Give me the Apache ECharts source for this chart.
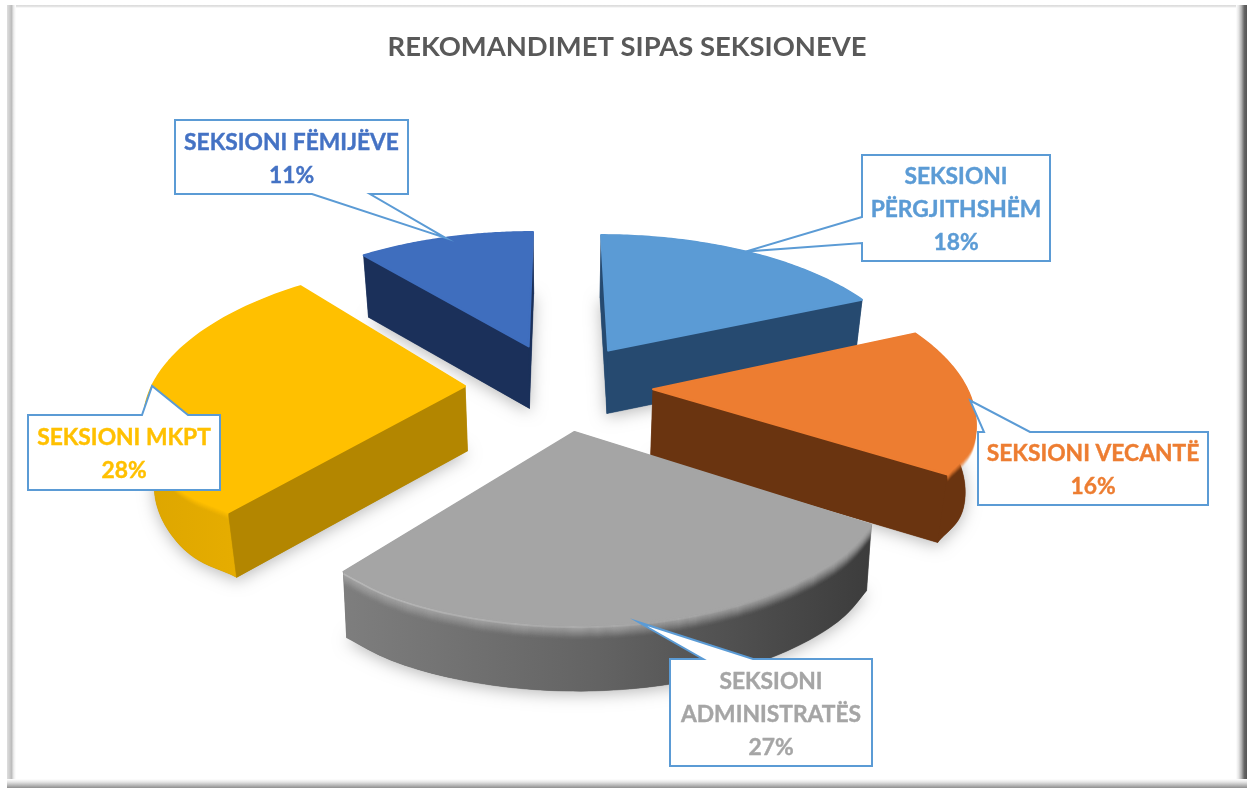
<!DOCTYPE html>
<html>
<head>
<meta charset="utf-8">
<style>html,body{margin:0;padding:0;background:#fff}#c{width:1247px;height:788px}</style>
<script src="https://cdn.jsdelivr.net/npm/echarts@6/dist/echarts.min.js"></script>
</head>
<body>
<div id="c"></div>
<script>
const titleText = 'REKOMANDIMET SIPAS SEKSIONEVE';
const sectionNames = ['SEKSIONI\nPËRGJITHSHËM', 'SEKSIONI VECANTË', 'SEKSIONI\nADMINISTRATËS', 'SEKSIONI MKPT', 'SEKSIONI FËMIJËVE'];
const sectionValues = [18.4, 15.6, 27, 28, 11];
const drawOrder = [4, 0, 3, 1, 2];

// projection of the tilted pie
const view = { cx: 559, cy: 386, fx: 313, fy: 147, p: 0.175, explode: 0.3 };

const looks = [
  { top: '#5B9BD5', radial: '#264A70', rim: ['#264A70', '#264A70'], bevel: 0, h: 63, r: 1, conv: 0.975, shrinkEnd: 0, shrinkStart: 0 },
  { top: '#ED7D31', radial: '#6A3410', rim: ['#6A3410', '#6A3410'], bevel: 7, h: 68, r: 1, conv: 0.975, shrinkEnd: 0.025, shrinkStart: 0 },
  { top: '#A5A5A5', radial: '#5A5A5A', rim: ['#7E7E7E', '#626262', '#3C3C3C'], bevel: 14, h: 66, r: 0.97, conv: 0.985, shrinkEnd: 0.012, shrinkStart: 0.012, glow: true },
  { top: '#FFC000', radial: '#B38600', rim: ['#DDA600', '#EDB200'], bevel: 7, h: 65, r: 1, conv: 0.975, shrinkEnd: 0, shrinkStart: 0.03 },
  { top: '#3F6EBE', radial: '#1B305A', rim: ['#1B305A', '#1B305A'], bevel: 0, h: 62, r: 1, conv: 0.975, shrinkEnd: 0, shrinkStart: 0 }
];

const callouts = [
  { box: [862, 155, 188, 106], side: 'left', base: [217, 243], tipR: 1, color: '#5B9BD5' },
  { box: [978, 432, 230, 73], side: 'top', base: [1030, 984], tipR: 0.995, color: '#ED7D31' },
  { box: [670, 659, 202, 107], side: 'top', base: [753, 703], tipR: 0.97, color: '#A5A5A5' },
  { box: [28, 415, 192, 75], side: 'top', base: [188, 142], tipR: 1, color: '#FFC000' },
  { box: [175, 120, 233, 74], side: 'bottom', base: [370, 312], tipR: 1, color: '#4472C4' }
];

const total = sectionValues.reduce((a, b) => a + b, 0);
const spans = [];
sectionValues.reduce((acc, v) => {
  const next = acc + v / total * Math.PI * 2;
  spans.push([acc, next]);
  return next;
}, 0);

function project(i, theta, r) {
  const mid = (spans[i][0] + spans[i][1]) / 2;
  const u = view.explode * Math.sin(mid) + r * Math.sin(theta);
  const v = view.explode * Math.cos(mid) + r * Math.cos(theta);
  const s = 1 / (1 + view.p * v);
  return [view.cx + view.fx * u * s, view.cy - view.fy * v * s];
}
function rimPoints(i) {
  const pts = [];
  const n = 80;
  const look = looks[i];
  const w = 7 * Math.PI / 180;
  for (let k = 0; k <= n; k++) {
    const t = spans[i][0] + (spans[i][1] - spans[i][0]) * k / n;
    const d0 = (t - spans[i][0]) / w, d1 = (spans[i][1] - t) / w;
    const r = look.r * (1 - look.shrinkStart * Math.exp(-d0 * d0) - look.shrinkEnd * Math.exp(-d1 * d1));
    pts.push(project(i, t, r));
  }
  return pts;
}
function hGrad(stops) {
  return new echarts.graphic.LinearGradient(0, 0, 1, 0,
    stops.map((c, j) => ({ offset: j / (stops.length - 1), color: c })));
}
function sliceItem(params, api) {
  const i = api.value(0);
  const look = looks[i];
  const drop = p => [view.cx + (p[0] - view.cx) * look.conv, p[1] + look.h];
  const apex = project(i, 0, 0);
  const rim = rimPoints(i);
  const first = rim[0], last = rim[rim.length - 1];
  const bottomRim = rim.map(drop).reverse();
  const children = [];
  const floor = [drop(apex)].concat(rim.map(drop));
  children.push({ type: 'polygon', shape: { points: floor },
    style: { fill: look.radial, shadowBlur: 16, shadowColor: 'rgba(0,0,0,0.28)', shadowOffsetY: 3 } });
  const walls = [
    { pts: [apex, first, drop(first), drop(apex)], fill: look.radial },
    { pts: [apex, last, drop(last), drop(apex)], fill: look.radial },
    { pts: rim.concat(bottomRim), fill: hGrad(look.rim) }
  ];
  walls.sort((a, b) => {
    const my = w => w.pts.reduce((t, p) => t + p[1], 0) / w.pts.length;
    return my(a) - my(b);
  });
  walls.forEach(w => children.push({ type: 'polygon', shape: { points: w.pts },
    style: { fill: w.fill, stroke: w.fill, lineWidth: 0.5 } }));
  for (let k = look.bevel; k > 0; k--) {
    const a = Math.pow(1 - k / (look.bevel + 1), 1.4);
    children.push({ type: 'polyline', shape: { points: rim.map(p => [p[0], p[1] + k]) },
      style: { stroke: look.top, lineWidth: 1.6, fill: 'none', opacity: a } });
  }
  if (look.glow) {
    children.push({ type: 'polyline', shape: { points: rim.map(p => [p[0], p[1] + 2]) },
      style: { fill: 'none', lineWidth: 2,
        stroke: hGrad(['rgba(255,255,255,0.22)', 'rgba(255,255,255,0.1)', 'rgba(255,255,255,0)']) } });
  }
  children.push({ type: 'polygon', shape: { points: [apex].concat(rim) },
    style: { fill: look.top, stroke: look.top, lineWidth: 2, lineJoin: 'round' } });
  return { type: 'group', children };
}
function calloutItem(params, api) {
  const i = api.value(0);
  const c = callouts[i];
  const mid = (spans[i][0] + spans[i][1]) / 2;
  const tip = project(i, mid, c.tipR);
  const [x, y, w, h] = c.box;
  let pts;
  if (c.side === 'top') {
    pts = [[x, y], [c.base[1], y], tip, [c.base[0], y], [x + w, y], [x + w, y + h], [x, y + h]];
  } else if (c.side === 'bottom') {
    pts = [[x, y], [x + w, y], [x + w, y + h], [c.base[0], y + h], tip, [c.base[1], y + h], [x, y + h]];
  } else {
    pts = [[x, y], [x + w, y], [x + w, y + h], [x, y + h], [x, c.base[1]], tip, [x, c.base[0]]];
  }
  const pct = Math.round(api.value(1) / total * 100) + '%';
  return { type: 'group', children: [
    { type: 'polygon', shape: { points: pts },
      style: { fill: '#fff', stroke: '#5B9BD5', lineWidth: 2 } },
    { type: 'text', style: {
        text: sectionNames[i] + '\n' + pct, x: x + w / 2, y: y + h / 2 + 2,
        align: 'center', verticalAlign: 'middle', fill: c.color,
        stroke: c.color, lineWidth: 0.4,
        font: 'bold 22.8px Lato', lineHeight: 33 } }
  ] };
}
const rows = drawOrder.map(i => [i, sectionValues[i]]);
const shade = (dir, pos, stops) => ({
  type: 'rect', silent: true, shape: pos,
  style: { fill: new echarts.graphic.LinearGradient(0, 0, dir === 'h' ? 1 : 0, dir === 'v' ? 1 : 0,
    stops.map((c, j) => ({ offset: j / (stops.length - 1), color: c }))) }
});
const chart = echarts.init(document.getElementById('c'), null, { renderer: 'canvas' });
chart.setOption({
  animation: false,
  backgroundColor: '#fff',
  title: { text: titleText, left: 622, textAlign: 'center', top: 29,
    textStyle: { fontFamily: 'Lato', fontWeight: 'bold', fontSize: 27.4, color: '#595959' } },
  graphic: [
    shade('v', { x: 7, y: 5, width: 1233, height: 3 }, ['#DADADA', '#E4E4E4', '#FFFFFF']),
    shade('h', { x: 7, y: 5, width: 9, height: 777 }, ['#DEDEDE', '#CFCFCF', '#BDBDBD', '#EDEDED', '#FFFFFF']),
    shade('h', { x: 1236, y: 5, width: 11, height: 783 }, ['#FFFFFF', '#E4E4E4', '#B0B0B0', '#666666', '#555555']),
    shade('v', { x: 7, y: 779, width: 1240, height: 9 }, ['#FFFFFF', '#E6E6E6', '#BBBBBB', '#8F8F8F'])
  ],
  series: [
    { type: 'custom', coordinateSystem: 'none', renderItem: sliceItem, data: rows, z: 2, silent: true },
    { type: 'custom', coordinateSystem: 'none', renderItem: calloutItem, data: rows, z: 3, silent: true }
  ]
});
</script>
</body>
</html>
